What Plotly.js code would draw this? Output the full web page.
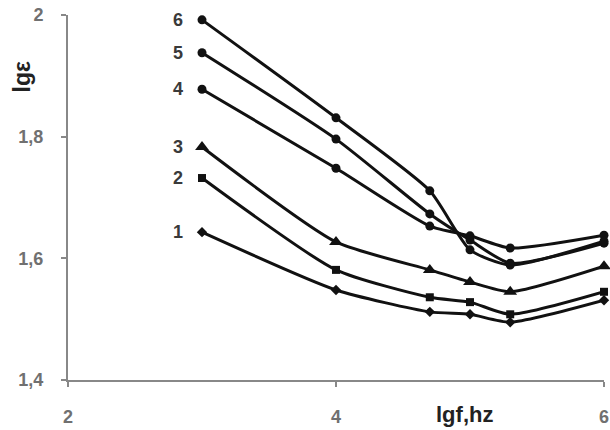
<!DOCTYPE html>
<html><head><meta charset="utf-8">
<script src="https://cdn.plot.ly/plotly-3.0.1.min.js"></script>
<style>body{margin:0;background:#fff}#c{width:610px;height:430px}</style>
</head><body><div id="c"></div>
<script>
var freq = [3, 4, 4.7, 5, 5.3, 6];
var s1 = [1.643, 1.548, 1.512, 1.508, 1.495, 1.531];
var s2 = [1.732, 1.581, 1.536, 1.528, 1.508, 1.545];
var s3 = [1.783, 1.627, 1.581, 1.561, 1.545, 1.587];
var s4 = [1.878, 1.748, 1.653, 1.637, 1.617, 1.638];
var s5 = [1.938, 1.796, 1.673, 1.630, 1.592, 1.625];
var s6 = [1.992, 1.831, 1.711, 1.614, 1.589, 1.628];
var seriesNames = ["1", "2", "3", "4", "5", "6"];
var xTicks = [2, 4, 6];
var xTickText = ["2", "4", "6"];
var yTicks = [1.4, 1.6, 1.8, 2.0];
var yTickText = ["1,4", "1,6", "1,8", "2"];

var all = [s1, s2, s3, s4, s5, s6];
var syms = ["diamond", "square", "triangle-up", "circle", "circle", "circle"];
var sizes = [8, 8, 12, 9, 9, 9];
var traces = all.map(function (ys, i) {
  return {
    x: freq, y: ys, mode: "lines+markers", name: seriesNames[i],
    line: {color: "#111", width: 3, shape: "spline", smoothing: 0.6},
    marker: {symbol: syms[i], size: sizes[i], color: "#111"},
    cliponaxis: false, showlegend: false
  };
});

var annots = all.map(function (ys, i) {
  return {
    x: 2.82, y: ys[0], xref: "x", yref: "y", text: "<b>" + seriesNames[i] + "</b>",
    showarrow: false, xanchor: "center", yanchor: "middle",
    font: {family: "Liberation Sans, Arial", size: 18, color: "#3a3a3a"}
  };
});
annots.push({
  xref: "paper", yref: "paper", x: -0.085, y: 0.83, text: "<b>lgε</b>", textangle: -90,
  showarrow: false, xanchor: "center", yanchor: "middle",
  font: {family: "Liberation Sans, Arial", size: 23, color: "#222"}
});
annots.push({
  xref: "x", yref: "paper", x: 4.96, y: -0.095, text: "<b>lgf,hz</b>",
  showarrow: false, xanchor: "center", yanchor: "middle",
  font: {family: "Liberation Sans, Arial", size: 22, color: "#222"}
});

var tf = {family: "Liberation Sans, Arial", size: 18, color: "#707070", weight: "bold"};
var layout = {
  width: 610, height: 430,
  margin: {l: 68, r: 6, t: 15, b: 50},
  paper_bgcolor: "#fff", plot_bgcolor: "#fff",
  showlegend: false,
  xaxis: {
    range: [2, 6], tickvals: xTicks, ticktext: xTickText,
    showgrid: false, zeroline: false, showline: true, linecolor: "#888", linewidth: 2,
    ticks: "outside", ticklen: 5, tickwidth: 2, tickcolor: "#888",
    ticklabelstandoff: 14, tickfont: tf
  },
  yaxis: {
    range: [1.4, 2.0], tickvals: yTicks, ticktext: yTickText,
    showgrid: false, zeroline: false, showline: true, linecolor: "#888", linewidth: 2,
    ticks: "outside", ticklen: 5, tickwidth: 2, tickcolor: "#888",
    ticklabelstandoff: 14, tickfont: tf
  },
  annotations: annots
};
Plotly.newPlot("c", traces, layout, {displayModeBar: false, staticPlot: true});
</script></body></html>
